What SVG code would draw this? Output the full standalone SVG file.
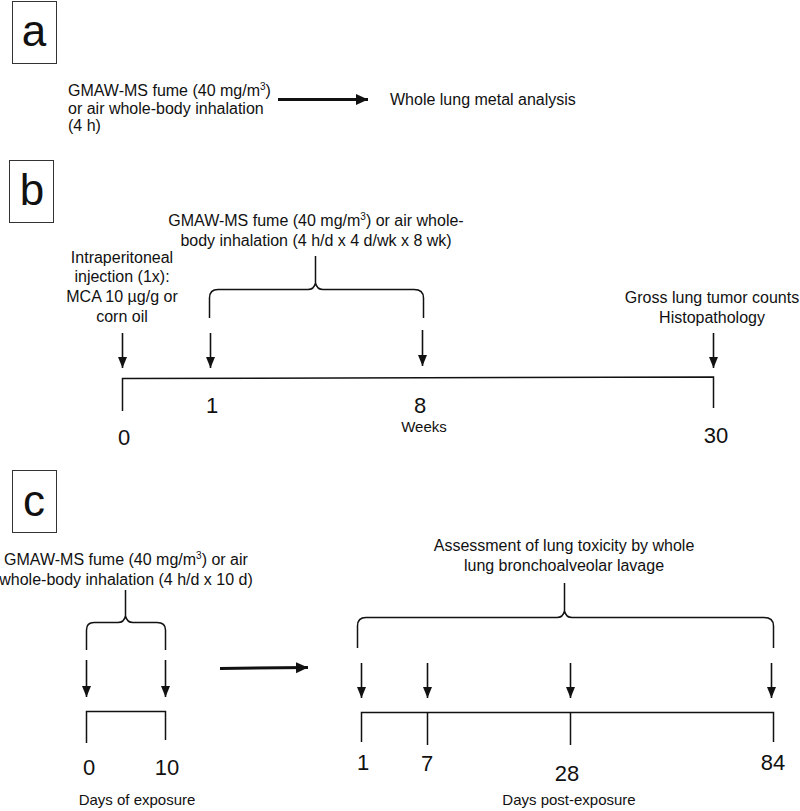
<svg xmlns="http://www.w3.org/2000/svg" width="800" height="811" viewBox="0 0 800 811">
<defs>
<marker id="ah" markerUnits="userSpaceOnUse" markerWidth="12" markerHeight="10" refX="11" refY="5" orient="auto">
<path d="M0,0.5 L11,5 L0,9.5 z" fill="#111"/>
</marker>
<marker id="ahb" markerUnits="userSpaceOnUse" markerWidth="13" markerHeight="12" refX="12" refY="6" orient="auto">
<path d="M0,0.5 L12,6 L0,11.5 z" fill="#111"/>
</marker>
<style>
text{font-family:"Liberation Sans",Arial,sans-serif;fill:#111;}
.t{font-size:16px;}
.s{font-size:15px;}
.n{font-size:22px;text-anchor:middle;}
.m{text-anchor:middle;}
.lbl{font-size:44px;text-anchor:middle;}
.box{fill:#fff;stroke:#333;stroke-width:1;}
.ln{fill:none;stroke:#111;stroke-width:1.5;}
.arr{fill:none;stroke:#111;stroke-width:1.6;marker-end:url(#ah);}
.harr{fill:none;stroke:#111;stroke-width:3;marker-end:url(#ahb);}
.br{fill:none;stroke:#111;stroke-width:1.5;}
</style>
</defs>
<rect width="800" height="811" fill="#fff"/>

<g id="panel-a">
<g id="label-a"><rect class="box" x="12.5" y="1.5" width="44" height="62"/><text class="lbl" x="34" y="46">a</text></g>
<g id="a-exposure"><text class="t" x="68" y="96">GMAW-MS fume (40 mg/m<tspan font-size="10" dy="-6">3</tspan><tspan dy="6">)</tspan></text>
<text class="t" x="68" y="114">or air whole-body inhalation</text>
<text class="t" x="68" y="131">(4 h)</text></g>
<g id="a-analysis"><text class="t" x="390" y="105">Whole lung metal analysis</text></g>
</g>

<g id="panel-b">
<g id="label-b"><rect class="box" x="9.5" y="160.5" width="44" height="62"/><text class="lbl" x="32" y="205">b</text></g>
<g id="b-exposure"><text class="t m" x="316" y="226">GMAW-MS fume (40 mg/m<tspan font-size="10" dy="-6">3</tspan><tspan dy="6">) or air whole-</tspan></text>
<text class="t m" x="316" y="246">body inhalation (4 h/d x 4 d/wk x 8 wk)</text></g>
<g id="b-injection"><text class="t m" x="122" y="263">Intraperitoneal</text>
<text class="t m" x="122" y="282">injection (1x):</text>
<text class="t m" x="122" y="302">MCA 10 µg/g or</text>
<text class="t m" x="122" y="322">corn oil</text></g>
<g id="b-endpoint"><text class="t m" x="712" y="303">Gross lung tumor counts</text>
<text class="t m" x="712" y="323">Histopathology</text></g>
<g id="b-axis">
<path class="ln" d="M122.5,411 L122.5,378.5 L713.5,377 L713.5,408"/>
<text class="n" x="124" y="445">0</text>
<text class="n" x="212" y="413">1</text>
<text class="n" x="420" y="413">8</text>
<text class="s m" x="424" y="432">Weeks</text>
<text class="n" x="716" y="443">30</text>
</g>
</g>

<g id="panel-c">
<g id="label-c"><rect class="box" x="12.5" y="470.5" width="44" height="62"/><text class="lbl" x="34" y="516">c</text></g>
<g id="c-exposure"><text class="t m" x="126" y="565">GMAW-MS fume (40 mg/m<tspan font-size="10" dy="-6">3</tspan><tspan dy="6">) or air</tspan></text>
<text class="t m" x="126" y="585">whole-body inhalation (4 h/d x 10 d)</text></g>
<g id="c-assessment"><text class="t m" x="564" y="551">Assessment of lung toxicity by whole</text>
<text class="t m" x="564" y="571">lung bronchoalveolar lavage</text></g>
<g id="c-axis-exposure">
<path class="ln" d="M86.5,743 L86.5,711.5 L165.5,711.5 L165.5,740"/>
<text class="n" x="89" y="775">0</text>
<text class="n" x="167" y="775">10</text>
<text class="s m" x="137" y="805">Days of exposure</text>
</g>
<g id="c-axis-post">
<path class="ln" d="M361.5,742 L361.5,712.5 L773.5,712.5 L773.5,742"/>
<path class="ln" d="M427.5,712 L427.5,745 M570.5,712 L570.5,745"/>
<text class="n" x="363" y="770">1</text>
<text class="n" x="427" y="771">7</text>
<text class="n" x="567" y="781">28</text>
<text class="n" x="773" y="770">84</text>
<text class="s m" x="569" y="805">Days post-exposure</text>
</g>
</g>

<g id="connectors">
<path class="harr" d="M278,99.5 L368,99.5"/>
<path class="br" d="M209.5,318 L209.5,298 Q209.5,289.5 218,289.5 L308,289.5 Q314,289.5 315.5,283 Q317,289.5 323,289.5 L414,289.5 Q423.5,289.5 423.5,298 L423.5,318 M315.5,256 L315.5,284"/>
<path class="arr" d="M122.5,333 L122.5,368"/>
<path class="arr" d="M210.5,333 L210.5,368"/>
<path class="arr" d="M422.5,330 L422.5,366"/>
<path class="arr" d="M713.5,333 L713.5,368"/>
<path class="br" d="M86.5,650 L86.5,630 Q86.5,622.5 94,622.5 L118,622.5 Q124,622.5 125.5,616 Q127,622.5 133,622.5 L157,622.5 Q165.5,622.5 165.5,630 L165.5,650 M125.5,590 L125.5,617"/>
<path class="arr" d="M86.5,660 L86.5,697"/>
<path class="arr" d="M165.5,660 L165.5,697"/>
<path class="harr" d="M220,668.5 L308,667.5"/>
<path class="br" d="M357.5,648 L357.5,626 Q357.5,617.5 366,617.5 L557,617.5 Q563,617.5 564.5,611 Q566,617.5 572,617.5 L764,617.5 Q773.5,617.5 773.5,626 L773.5,648 M564.5,583 L564.5,612"/>
<path class="arr" d="M361.5,663 L361.5,698"/>
<path class="arr" d="M427.5,663 L427.5,698"/>
<path class="arr" d="M570.5,663 L570.5,698"/>
<path class="arr" d="M771.5,663 L771.5,698"/>
</g>
</svg>
